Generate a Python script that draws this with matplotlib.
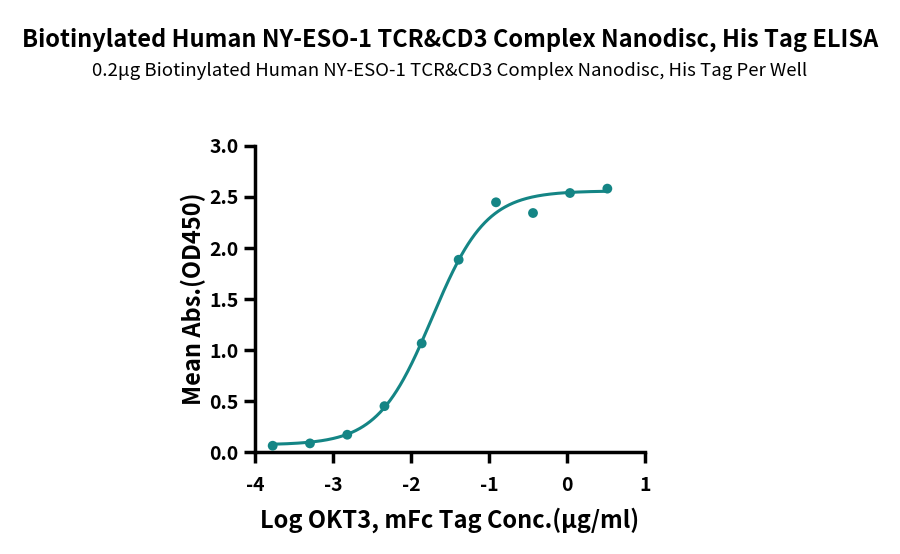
import numpy as np
import matplotlib
matplotlib.use("Agg")
import matplotlib.pyplot as plt

plt.rcParams['font.family'] = ['Noto Sans CJK SC', 'DejaVu Sans']

log_conc = [-3.773, -3.295, -2.817, -2.340, -1.863, -1.389, -0.910, -0.436, 0.038, 0.517]
od450 = [0.062, 0.085, 0.170, 0.450, 1.065, 1.885, 2.448, 2.343, 2.539, 2.582]

# 4PL fit parameters
fit_bottom = 0.07
fit_top = 2.56
fit_logec50 = -1.73
fit_hill = 1.25

x_ticks = [-4, -3, -2, -1, 0, 1]
y_ticks = [0.0, 0.5, 1.0, 1.5, 2.0, 2.5, 3.0]

title = "Biotinylated Human NY-ESO-1 TCR&CD3 Complex Nanodisc, His Tag ELISA"
subtitle = "0.2\u03bcg Biotinylated Human NY-ESO-1 TCR&CD3 Complex Nanodisc, His Tag Per Well"
xlabel = "Log OKT3, mFc Tag Conc.(\u03bcg/ml)"
ylabel = "Mean Abs.(OD450)"

color = "#148585"

fig = plt.figure(figsize=(9, 5.54), dpi=100)
ax = fig.add_axes([0.2833, 0.184, 0.4334, 0.5525])

xs = np.linspace(min(log_conc), max(log_conc), 400)
ys = fit_bottom + (fit_top - fit_bottom) / (1 + 10 ** ((fit_logec50 - xs) * fit_hill))
ax.plot(xs, ys, color=color, lw=2.2, zorder=2)
ax.scatter(log_conc, od450, s=50, color=color, zorder=3, edgecolors='none')

ax.set_xlim(-4, 1)
ax.set_ylim(0, 3.0)
ax.set_xticks(x_ticks)
ax.set_xticklabels([str(t) for t in x_ticks])
ax.set_yticks(y_ticks)
ax.set_yticklabels([f"{t:.1f}" for t in y_ticks])
for s in ['top', 'right']:
    ax.spines[s].set_visible(False)
for s in ['left', 'bottom']:
    ax.spines[s].set_linewidth(2.5)
ax.tick_params(direction='out', length=8, width=2.5, labelsize=14)
ax.tick_params(axis='x', pad=9)
ax.tick_params(axis='y', pad=4)
for lab in ax.get_xticklabels() + ax.get_yticklabels():
    lab.set_fontweight('bold')
ax.set_xlabel(xlabel, fontsize=17, fontweight='bold', labelpad=9)
ax.set_ylabel(ylabel, fontsize=17, fontweight='bold', labelpad=2)

fig.text(0.5, 1 - 40 / 554, title, ha='center', va='center', fontsize=17, fontweight='bold')
fig.text(0.5, 1 - 71 / 554, subtitle, ha='center', va='center', fontsize=13.4)

fig.savefig("out.png", dpi=100)
